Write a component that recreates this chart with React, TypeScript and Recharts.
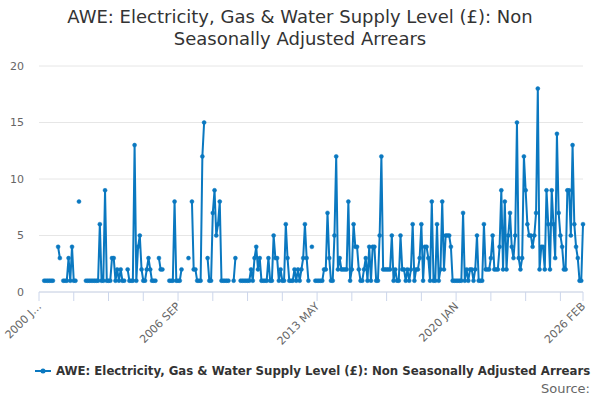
import React from "react"
import { LineChart, Line, XAxis, YAxis, CartesianGrid } from "recharts"

// monthly arrears, index 0 = 2000 JAN, last = 2026 FEB (null = no value)
const arrears: (number | null)[] = [
  null, null, null, 1, 1, 1, 1, 1, 1, null,
  null, 4, 3, null, 1, 1, 1, 3, 1, 4,
  1, 1, null, 8, null, null, null, 1, 1, 1,
  1, 1, 1, 1, 1, 6, 1, 1, 9, 1,
  1, 1, 3, 3, 1, 2, 1, 2, 1, 1,
  null, 2, 1, 1, 1, 13, 1, 4, 5, 2,
  1, 1, 2, 3, 2, 1, 1, 1, null, 3,
  2, 2, null, null, null, 1, 1, 1, 8, 1,
  1, 1, 2, null, null, null, 3, null, 8, 2,
  2, 1, 1, 1, 12, 15, null, 3, 1, 1,
  7, 9, 5, 6, 8, 1, 1, 1, 1, 1,
  null, null, 1, 3, null, null, 1, 1, 1, 1,
  1, 1, 2, 1, 3, 4, 2, 3, 1, 1,
  1, 1, 3, 1, 1, 5, 3, 3, 1, 2,
  1, 1, 6, 3, 1, 1, 1, 2, 1, 2,
  1, 2, 3, 6, 3, 1, null, 4, null, 1,
  1, 1, 1, 1, 2, 2, 7, 3, 1, 1,
  5, 12, 2, 3, 2, 2, 2, 2, 8, 1,
  2, 6, 4, 4, 2, 1, 1, 2, 3, 1,
  4, 1, 4, 4, 1, 1, 5, 12, 2, 2,
  2, 2, 2, 5, 1, 2, 1, 1, 5, 2,
  2, 1, 2, 1, 2, 6, 1, 2, 2, 3,
  6, 1, 4, 4, 3, 1, 8, 1, 1, 6,
  1, 2, 8, 2, 5, 5, 5, 4, 1, 1,
  1, 1, 1, 1, 7, 1, 2, 1, 2, 2,
  1, 2, 5, 1, 1, 1, 6, 2, 2, 2,
  3, 5, 2, 2, 2, 4, 9, 2, 8, 2,
  5, 7, 4, 3, 5, 15, 3, 2, 3, 12,
  9, 6, 5, 5, 4, 5, 7, 18, 2, 4,
  4, 2, 9, 6, 2, 9, 6, 3, 14, 7,
  5, 4, 2, 2, 9, 9, 5, 13, 6, 4,
  3, 1, 1, 6,
]

const monthNames = ["JAN", "FEB", "MAR", "APR", "MAY", "JUN", "JUL", "AUG", "SEP", "OCT", "NOV", "DEC"]
const startYear = 2000

// tick marks every 20 months plus the last month; only some carry a label
const xTicks = [0, 20, 40, 60, 80, 100, 120, 140, 160, 180, 200, 220, 240, 260, 280, 300, 313]
const xTickLabels: Record<number, string> = {
  0: "2000 J…",
  80: "2006 SEP",
  160: "2013 MAY",
  240: "2020 JAN",
  313: "2026 FEB",
}
const yTicks = [0, 5, 10, 15, 20]

const seriesName = "AWE: Electricity, Gas & Water Supply Level (£): Non Seasonally Adjusted Arrears"
const titleLines = ["AWE: Electricity, Gas & Water Supply Level (£): Non", "Seasonally Adjusted Arrears"]

const blue = "#0a78c0"
const font = "'DejaVu Sans', sans-serif"

const data = arrears.map((v, i) => ({
  i,
  month: `${startYear + Math.floor(i / 12)} ${monthNames[i % 12]}`,
  value: v,
}))

function XTick(props: any) {
  const { x, y, payload } = props
  const label = xTickLabels[payload.value]
  if (!label) return null
  return (
    <text
      x={x + 3}
      y={y + 4}
      transform={`rotate(-45 ${x + 3} ${y + 4})`}
      textAnchor="end"
      fontSize={11}
      fill="#666666"
      fontFamily={font}
    >
      {label}
    </text>
  )
}

export default function App() {
  return (
    <div style={{ position: "absolute", left: 0, top: 0, width: 600, height: 400, fontFamily: font, background: "#fff" }}>
      <div style={{ position: "absolute", left: 0, top: 6, width: 600, textAlign: "center", fontSize: 18, lineHeight: "22px", color: "#333333" }}>
        {titleLines.map((t) => (
          <div key={t}>{t}</div>
        ))}
      </div>
      <LineChart width={600} height={400} data={data} margin={{ top: 66, right: 17, bottom: 78, left: 0 }}>
        <CartesianGrid stroke="#e6e6e6" vertical={false} />
        <XAxis
          type="number"
          dataKey="i"
          domain={[0, 313]}
          ticks={xTicks}
          interval={0}
          height={30}
          stroke="#ccd6eb"
          tickSize={9}
          tick={<XTick />}
        />
        <YAxis
          domain={[0, 20]}
          ticks={yTicks}
          width={39}
          axisLine={false}
          tickLine={false}
          tickSize={0}
          tickMargin={15}
          tick={{ fontSize: 11, fill: "#666666", fontFamily: font }}
        />
        <Line
          type="linear"
          dataKey="value"
          stroke={blue}
          strokeWidth={2}
          dot={{ r: 2, fill: blue, stroke: blue, strokeWidth: 0.5 }}
          connectNulls={false}
          isAnimationActive={false}
        />
      </LineChart>
      <div style={{ position: "absolute", left: 35, top: 364, display: "flex", alignItems: "center", whiteSpace: "nowrap" }}>
        <svg width={16} height={12}>
          <line x1={0} y1={6} x2={16} y2={6} stroke={blue} strokeWidth={2} />
          <circle cx={8} cy={6} r={2.5} fill={blue} />
        </svg>
        <span style={{ marginLeft: 5, fontSize: 11.75, fontWeight: "bold", color: "#333333" }}>{seriesName}</span>
      </div>
      <div style={{ position: "absolute", right: 10, top: 381, fontSize: 13, color: "#666666" }}>Source:</div>
    </div>
  )
}
